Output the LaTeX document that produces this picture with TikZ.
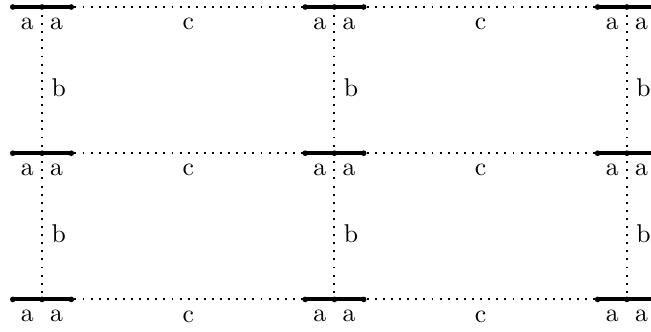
\documentclass[tikz,border=0pt]{standalone}
\tikzset{
  rail/.style={ultra thick},
  gridlink/.style={line width=0.75pt,dash pattern=on 0.75pt off 2.4pt},
  tag below/.style={below=0.6pt}
}
\begin{document}
\begin{tikzpicture}
  \useasboundingbox (-0.575,-0.438) rectangle (8.33,4.096);
  \foreach \i/\x in {0/0,1/4,2/8} {
    \foreach \j/\y in {0/0,1/2,2/4} {
      \coordinate (m-\i-\j) at (\x,\y);
      \coordinate (l-\i-\j) at (\x-0.4,\y);
      \coordinate (r-\i-\j) at (\x+0.4,\y);
    }
  }

  % dotted links between the joints
  \foreach \i in {0,1,2} {
    \draw[gridlink] (m-\i-2) -- (m-\i-1) node[pos=.55,right] {b};
    \draw[gridlink] (m-\i-1) -- (m-\i-0) node[pos=.55,right] {b};
  }
  \foreach \i/\k in {0/1,1/2} {
    \foreach \j in {0,1,2} {
      \draw[gridlink] (m-\i-\j) -- (m-\k-\j) node[midway,tag below] {c};
    }
  }

  % thick rails on top
  \foreach \i in {0,1,2} {
    \foreach \j in {0,1,2} {
      \draw[rail] (l-\i-\j) -- (m-\i-\j) node[midway,below] {a}
        -- (r-\i-\j) node[midway,below] {a};
      \foreach \p in {l,m,r}
        \fill (\p-\i-\j) circle (1.1pt);
    }
  }
\end{tikzpicture}
\end{document}
